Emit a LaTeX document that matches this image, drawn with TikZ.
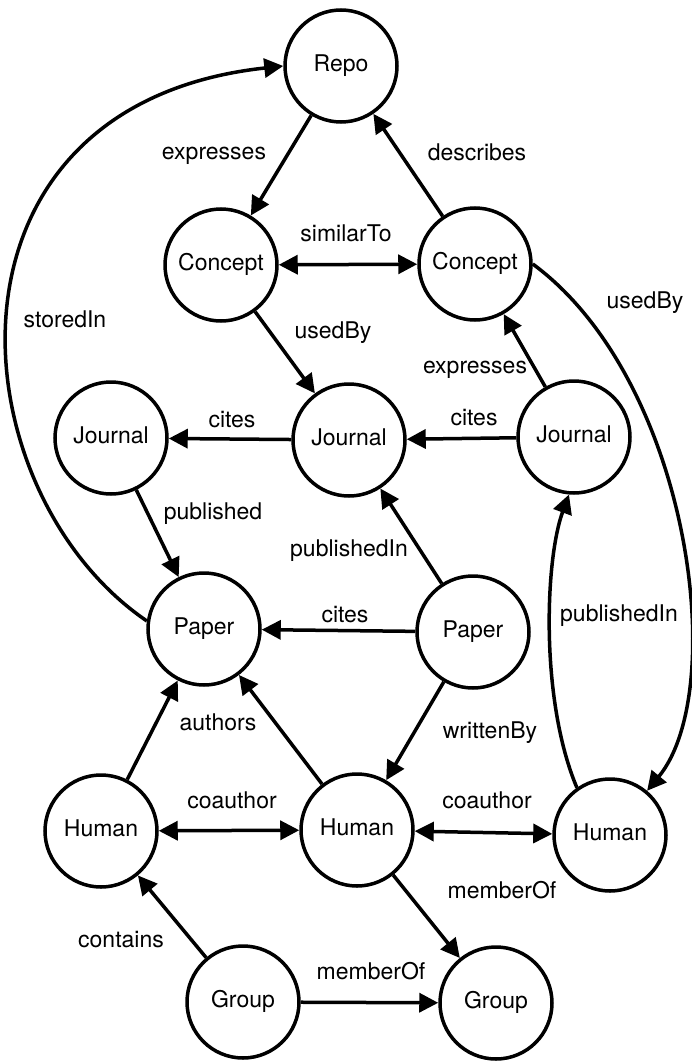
\documentclass[tikz,border=0pt]{standalone}
\usepackage{fontspec}
\setmainfont{TeX Gyre Heros}
\usetikzlibrary{arrows.meta}
\begin{document}
\begin{tikzpicture}[x=1pt,y=-1pt,
  ent/.style={circle,draw,line width=3.5pt,minimum size=112pt,inner sep=0pt,
    font=\fontsize{23}{27}\selectfont,text height=16.5pt,text depth=5pt},
  lab/.style={font=\fontsize{23}{27}\selectfont,inner sep=0pt,text height=16.5pt,text depth=5pt},
  rel/.style={line width=3.5pt,-{Triangle[length=19pt,width=19pt]}},
  bi/.style={line width=3.5pt,{Triangle[length=19pt,width=19pt]}-{Triangle[length=19pt,width=19pt]}},
]
\useasboundingbox (0,0) rectangle (691,1062);
% nodes
\node[ent] (repo) at (341,66) {Repo};
\node[ent] (conL) at (221,265) {Concept};
\node[ent] (conR) at (475,264) {Concept};
\node[ent] (jouL) at (111,438) {Journal};
\node[ent] (jouM) at (349,440) {Journal};
\node[ent] (jouR) at (574,437) {Journal};
\node[ent] (papL) at (204,629) {Paper};
\node[ent] (papR) at (473,632) {Paper};
\node[ent] (humL) at (101,831) {Human};
\node[ent] (humM) at (357,830) {Human};
\node[ent] (humR) at (610,835) {Human};
\node[ent] (grpL) at (243,1002) {Group};
\node[ent] (grpR) at (496,1003) {Group};
% edges
\draw[rel] (repo) -- (conL);
\draw[rel] (conR) -- (repo);
\draw[bi] (conL) -- (conR);
\draw[rel] (papL.172) .. controls (-45,490) and (-75,105) .. (repo.west);
\draw[rel] (conL) -- (jouM);
\draw[rel] (conR.east) .. controls (690,380) and (730,690) .. (humR.50);
\draw[rel] (jouR) -- (conR);
\draw[rel] (jouM) -- (jouL);
\draw[rel] (jouR) -- (jouM);
\draw[rel] (jouL) -- (papL);
\draw[rel] (papR) -- (jouM);
\draw[rel] (humR.125) .. controls (540,700) and (545,560) .. (jouR.265);
\draw[rel] (papR) -- (papL);
\draw[rel] (humL) -- (papL);
\draw[rel] (humM) -- (papL);
\draw[rel] (papR) -- (humM);
\draw[bi] (humL) -- (humM);
\draw[bi] (humM) -- (humR);
\draw[rel] (humM) -- (grpR);
\draw[rel] (grpL) -- (humL);
\draw[rel] (grpL) -- (grpR);
% labels
\node[lab] (l1) at (214,154) {expresses};
\node[lab] (l2) at (477,155) {describes};
\node[lab] (l3) at (346,236) {similarTo};
\node[lab] (l4) at (65,322) {storedIn};
\node[lab] (l5) at (333,333) {usedBy};
\node[lab] (l6) at (645,303) {usedBy};
\node[lab] (l7) at (475,368) {expresses};
\node[lab] (l8) at (232,422) {cites};
\node[lab] (l9) at (474,420) {cites};
\node[lab] (l10) at (213,514) {published};
\node[lab] (l11) at (349,551) {publishedIn};
\node[lab] (l12) at (619,616) {publishedIn};
\node[lab] (l13) at (345,617) {cites};
\node[lab] (l14) at (218,725) {authors};
\node[lab] (l15) at (490,733) {writtenBy};
\node[lab] (l16) at (232,803) {coauthor};
\node[lab] (l17) at (487,803) {coauthor};
\node[lab] (l18) at (502,893) {memberOf};
\node[lab] (l19) at (121,942) {contains};
\node[lab] (l20) at (371,974) {memberOf};
\end{tikzpicture}
\end{document}
